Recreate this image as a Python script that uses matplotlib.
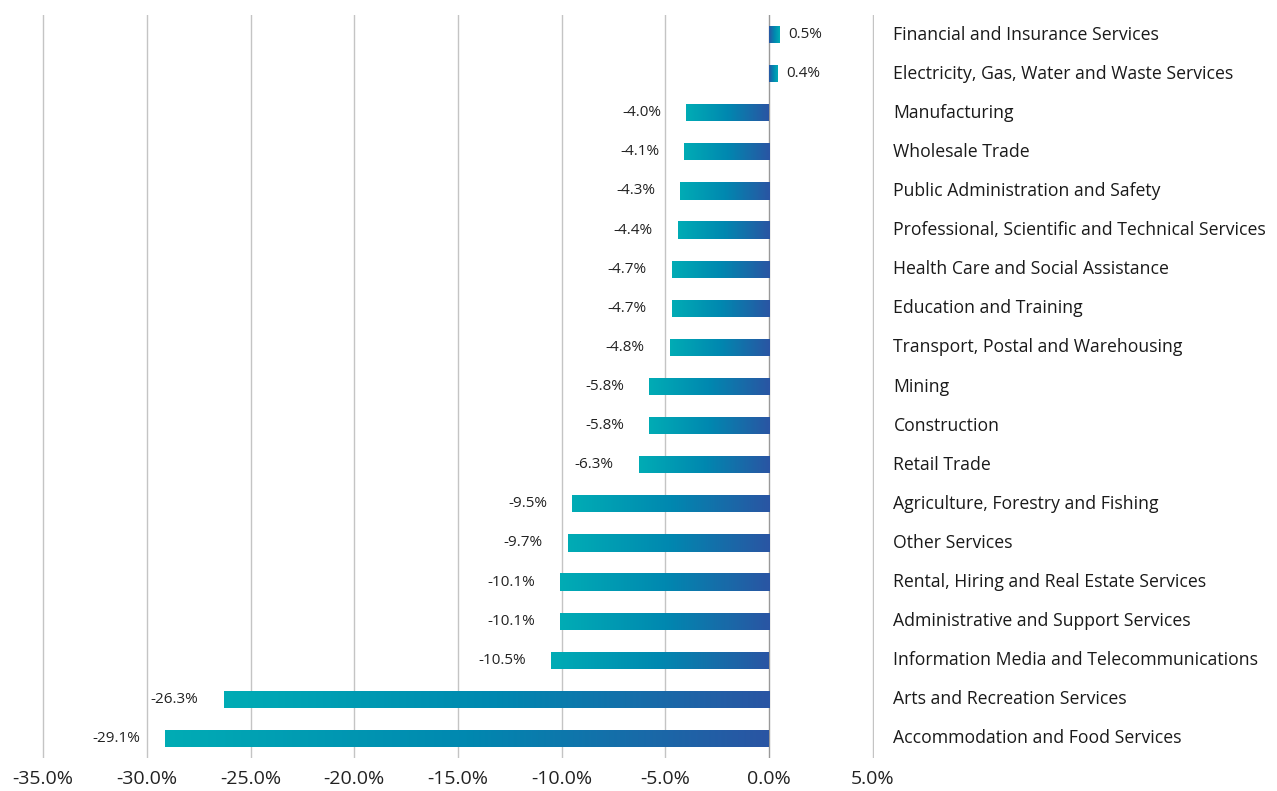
import matplotlib.pyplot as plt
import numpy as np
from matplotlib.colors import LinearSegmentedColormap

industries = [
    "Financial and Insurance Services",
    "Electricity, Gas, Water and Waste Services",
    "Manufacturing",
    "Wholesale Trade",
    "Public Administration and Safety",
    "Professional, Scientific and Technical Services",
    "Health Care and Social Assistance",
    "Education and Training",
    "Transport, Postal and Warehousing",
    "Mining",
    "Construction",
    "Retail Trade",
    "Agriculture, Forestry and Fishing",
    "Other Services",
    "Rental, Hiring and Real Estate Services",
    "Administrative and Support Services",
    "Information Media and Telecommunications",
    "Arts and Recreation Services",
    "Accommodation and Food Services",
]
change = [0.5, 0.4, -4.0, -4.1, -4.3, -4.4, -4.7, -4.7, -4.8, -5.8, -5.8,
          -6.3, -9.5, -9.7, -10.1, -10.1, -10.5, -26.3, -29.1]
xticks = [-35, -30, -25, -20, -15, -10, -5, 0, 5]

plt.rcParams["font.family"] = ["Open Sans", "DejaVu Sans"]

fig = plt.figure(figsize=(12.77, 7.91), dpi=100)
ax = fig.add_axes([42 / 1277, 1 - 758 / 791, (874 - 42) / 1277, (758 - 15) / 791])

# 0 = teal (tip of bar), 1 = blue (at zero)
cmap = LinearSegmentedColormap.from_list("grad", ["#00acb5", "#0088b0", "#2a55a3"])
ramp = np.linspace(0, 1, 256).reshape(1, -1)

y = np.arange(len(industries))
bars = ax.barh(y, change, height=0.44, color="none", zorder=3)
for b, v in zip(bars, change):
    x0, yb = b.get_x(), b.get_y()
    w, h = b.get_width(), b.get_height()
    left, right = min(x0, x0 + w), max(x0, x0 + w)
    g = ramp if v < 0 else ramp[:, ::-1]
    im = ax.imshow(g, cmap=cmap, aspect="auto", extent=(left, right, yb + h, yb),
                   zorder=3, interpolation="bilinear", vmin=0, vmax=1)
    im.set_clip_path(b)

for yi, v in zip(y, change):
    label = f"{v:.1f}%"
    if v < 0:
        ax.annotate(label, (v, yi), xytext=(-18, 0), textcoords="offset points",
                    ha="right", va="center", fontsize=11, color="#222222")
    else:
        ax.annotate(label, (v, yi), xytext=(6, 0), textcoords="offset points",
                    ha="left", va="center", fontsize=11, color="#222222")

for yi, name in zip(y, industries):
    ax.annotate(name, (1.0, yi), xycoords=("axes fraction", "data"),
                xytext=(14, 0), textcoords="offset points",
                ha="left", va="center", fontsize=12.7, color="#1a1a1a")

ax.set_xlim(-35.05, 5.05)
ax.set_ylim(len(industries) - 0.5, -0.5)
ax.set_xticks(xticks)
ax.set_xticklabels([f"{t:.1f}%" for t in xticks], fontsize=14, color="#222222")
ax.set_yticks([])
ax.tick_params(axis="x", length=0, pad=9)
for s in ax.spines.values():
    s.set_visible(False)

for t in xticks:
    ax.axvline(t, color="#999999" if t == 0 else "#c4c4c4", lw=1.0, zorder=1)

fig.savefig("out.png", dpi=100)
